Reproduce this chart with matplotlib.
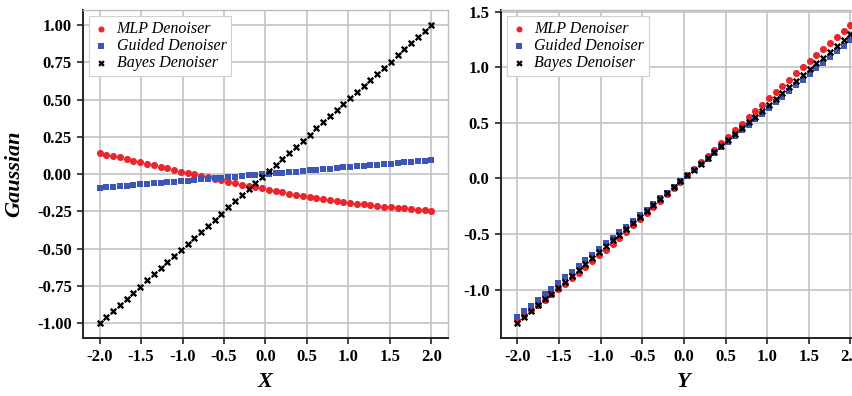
import matplotlib
matplotlib.use("Agg")
import matplotlib.pyplot as plt
from matplotlib.ticker import FormatStrFormatter

# Sample positions shared by both panels
x_pts = [-2.000, -1.918, -1.837, -1.755, -1.673, -1.592, -1.510, -1.429, -1.347, -1.265,
         -1.184, -1.102, -1.020, -0.939, -0.857, -0.776, -0.694, -0.612, -0.531, -0.449,
         -0.367, -0.286, -0.204, -0.122, -0.041, 0.041, 0.122, 0.204, 0.286, 0.367,
         0.449, 0.531, 0.612, 0.694, 0.776, 0.857, 0.939, 1.020, 1.102, 1.184,
         1.265, 1.347, 1.429, 1.510, 1.592, 1.673, 1.755, 1.837, 1.918, 2.000]

# Left panel: Gaussian vs X
left_mlp = [0.141, 0.131, 0.121, 0.111, 0.100, 0.090, 0.080, 0.070, 0.059, 0.048,
            0.038, 0.027, 0.017, 0.007, -0.003, -0.013, -0.023, -0.033, -0.043, -0.053,
            -0.062, -0.071, -0.080, -0.089, -0.097, -0.106, -0.114, -0.122, -0.131, -0.139,
            -0.147, -0.155, -0.161, -0.168, -0.175, -0.181, -0.188, -0.194, -0.199, -0.204,
            -0.209, -0.215, -0.220, -0.224, -0.228, -0.231, -0.235, -0.238, -0.242, -0.245]
left_guided = [-0.093, -0.089, -0.085, -0.082, -0.078, -0.074, -0.070, -0.066, -0.063, -0.059,
               -0.055, -0.051, -0.047, -0.044, -0.040, -0.036, -0.032, -0.028, -0.025, -0.021,
               -0.017, -0.013, -0.009, -0.006, -0.002, 0.002, 0.006, 0.009, 0.013, 0.017,
               0.021, 0.025, 0.028, 0.032, 0.036, 0.040, 0.044, 0.047, 0.051, 0.055,
               0.059, 0.063, 0.066, 0.070, 0.074, 0.078, 0.082, 0.085, 0.089, 0.093]
left_bayes = [-1.000, -0.959, -0.918, -0.878, -0.837, -0.796, -0.755, -0.714, -0.673, -0.633,
              -0.592, -0.551, -0.510, -0.469, -0.429, -0.388, -0.347, -0.306, -0.265, -0.224,
              -0.184, -0.143, -0.102, -0.061, -0.020, 0.020, 0.061, 0.102, 0.143, 0.184,
              0.224, 0.265, 0.306, 0.347, 0.388, 0.429, 0.469, 0.510, 0.551, 0.592,
              0.633, 0.673, 0.714, 0.755, 0.796, 0.837, 0.878, 0.918, 0.959, 1.000]

# Right panel: output vs Y
right_mlp = [-1.270, -1.226, -1.182, -1.136, -1.090, -1.043, -0.995, -0.947, -0.897, -0.846,
             -0.796, -0.744, -0.692, -0.639, -0.586, -0.532, -0.478, -0.422, -0.368, -0.312,
             -0.255, -0.200, -0.143, -0.085, -0.029, 0.029, 0.086, 0.144, 0.202, 0.259,
             0.317, 0.375, 0.433, 0.491, 0.549, 0.606, 0.663, 0.720, 0.777, 0.834,
             0.890, 0.947, 1.003, 1.058, 1.113, 1.167, 1.221, 1.275, 1.327, 1.380]
right_guided = [-1.244, -1.193, -1.143, -1.092, -1.041, -0.990, -0.939, -0.889, -0.838, -0.787,
                -0.736, -0.685, -0.634, -0.584, -0.533, -0.483, -0.432, -0.381, -0.330, -0.279,
                -0.228, -0.178, -0.127, -0.076, -0.026, 0.026, 0.076, 0.127, 0.178, 0.228,
                0.279, 0.330, 0.381, 0.432, 0.483, 0.533, 0.584, 0.634, 0.685, 0.736,
                0.787, 0.838, 0.889, 0.939, 0.990, 1.041, 1.092, 1.143, 1.193, 1.244]
right_bayes = [-1.300, -1.247, -1.194, -1.141, -1.087, -1.035, -0.982, -0.929, -0.876, -0.822,
               -0.770, -0.716, -0.663, -0.610, -0.557, -0.504, -0.451, -0.398, -0.345, -0.292,
               -0.239, -0.186, -0.133, -0.079, -0.027, 0.027, 0.079, 0.133, 0.186, 0.239,
               0.292, 0.345, 0.398, 0.451, 0.504, 0.557, 0.610, 0.663, 0.716, 0.770,
               0.822, 0.876, 0.929, 0.982, 1.035, 1.087, 1.141, 1.194, 1.247, 1.300]

labels = ["MLP Denoiser", "Guided Denoiser", "Bayes Denoiser"]
x_ticks = [-2.0, -1.5, -1.0, -0.5, 0.0, 0.5, 1.0, 1.5, 2.0]
left_yticks = [-1.00, -0.75, -0.50, -0.25, 0.00, 0.25, 0.50, 0.75, 1.00]
right_yticks = [-1.0, -0.5, 0.0, 0.5, 1.0, 1.5]

RED = "#e8262b"
BLUE = "#3d55b4"
SERIF = "Liberation Serif"

fig = plt.figure(figsize=(8.52, 3.96), dpi=100)
ax1 = fig.add_axes([0.0974, 0.1465, 0.4284, 0.828])
ax2 = fig.add_axes([0.5877, 0.1465, 0.4300, 0.828])


def draw(ax, ys, yticks, yfmt, xlabel, ylabel=None):
    ax.scatter(x_pts, ys[0], s=26, marker="o", color=RED, label=labels[0], zorder=3, linewidths=0)
    ax.scatter(x_pts, ys[1], s=24, marker="s", color=BLUE, label=labels[1], zorder=3, linewidths=0)
    ax.scatter(x_pts, ys[2], s=16, marker="x", color="black", label=labels[2], zorder=3, linewidths=1.7)
    ax.set_xlim(-2.2, 2.2)
    ax.set_xticks(x_ticks)
    ax.set_yticks(yticks)
    ax.xaxis.set_major_formatter(FormatStrFormatter("%.1f"))
    ax.yaxis.set_major_formatter(FormatStrFormatter(yfmt))
    ax.grid(True, color="#c4c4c4", linewidth=1.2)
    ax.set_axisbelow(True)
    for side in ("top", "right"):
        ax.spines[side].set_color("#bdbdbd")
        ax.spines[side].set_linewidth(1.0)
    for side in ("left", "bottom"):
        ax.spines[side].set_color("#222222")
        ax.spines[side].set_linewidth(1.4)
    ax.tick_params(axis="both", length=4, width=1.2, color="#222222", pad=4)
    for t in ax.get_xticklabels() + ax.get_yticklabels():
        t.set_fontfamily(SERIF)
        t.set_fontweight("bold")
        t.set_fontsize(12)
    ax.set_xlabel(xlabel, fontfamily=SERIF, fontstyle="italic", fontweight="bold",
                  fontsize=16, labelpad=5)
    if ylabel:
        ax.set_ylabel(ylabel, fontfamily=SERIF, fontstyle="italic", fontweight="bold",
                      fontsize=16, labelpad=9)
    leg = ax.legend(loc="upper left", prop={"family": SERIF, "style": "italic", "size": 11.5},
                    frameon=True, fancybox=False, edgecolor="#d0d0d0", framealpha=1.0,
                    handlelength=0.9, handletextpad=0.5, labelspacing=0.05, borderpad=0.3,
                    markerscale=0.85, borderaxespad=0.4)
    leg.get_frame().set_linewidth(0.8)


draw(ax1, [left_mlp, left_guided, left_bayes], left_yticks, "%.2f", "X", "Gaussian")
draw(ax2, [right_mlp, right_guided, right_bayes], right_yticks, "%.1f", "Y")
ax2.set_ylim(-1.434, 1.514)
ax1.set_ylim(-1.1, 1.1)

fig.savefig("out.png", dpi=100)
